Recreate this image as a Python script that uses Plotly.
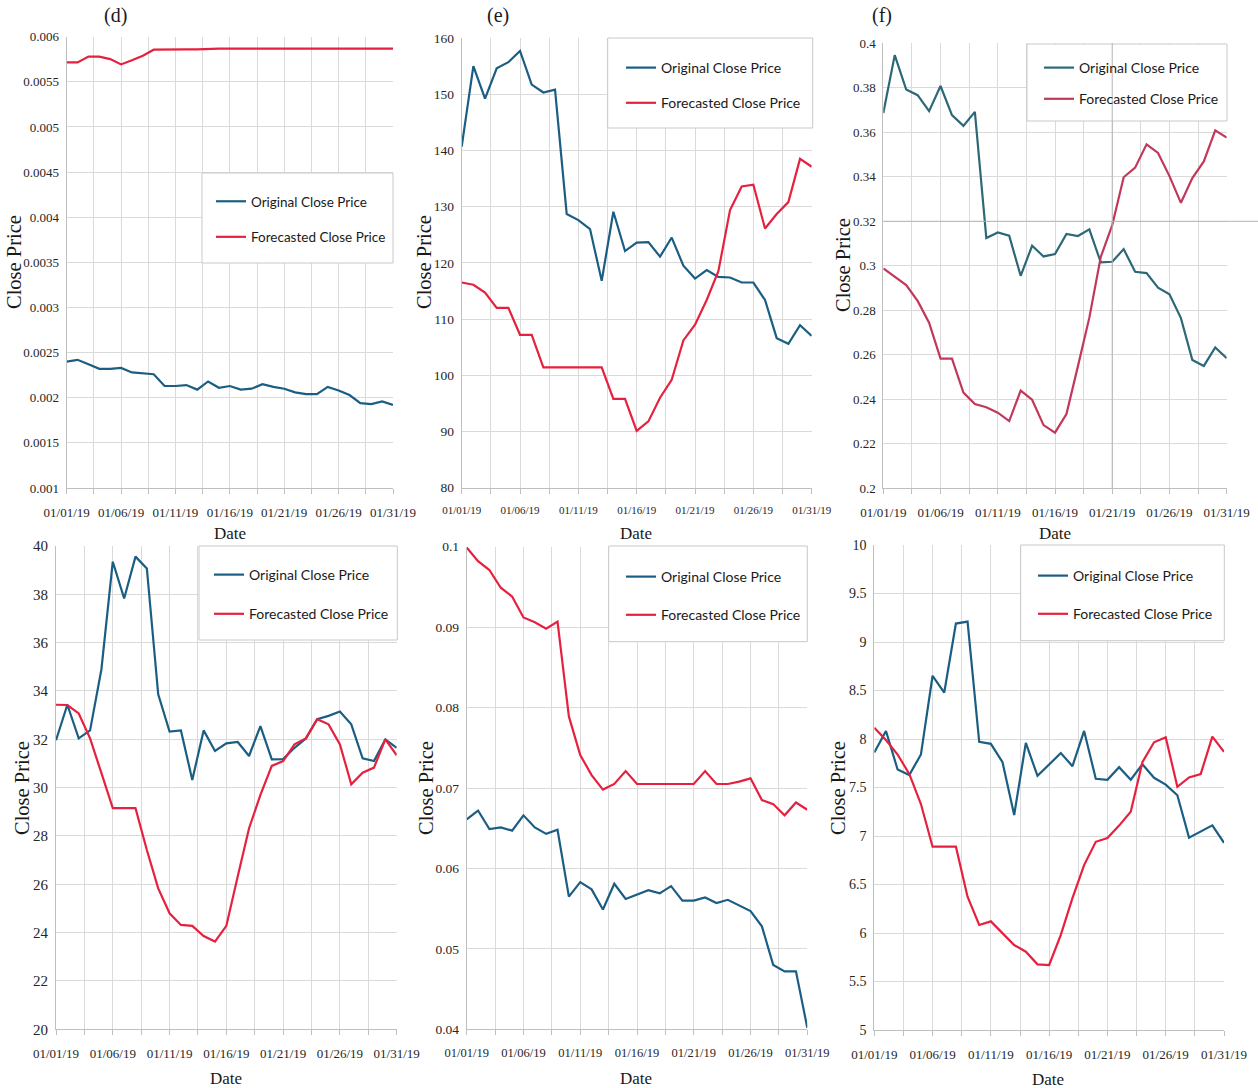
import plotly.graph_objects as go

# ---------------------------------------------------------------- data
dates = [f"2019-01-{d:02d}" for d in range(1, 32)]

d_original = [0.00240, 0.00242, 0.00237, 0.00232, 0.00232, 0.00233, 0.00228, 0.00227,
              0.00226, 0.00213, 0.00213, 0.00214, 0.00209, 0.00218, 0.00211, 0.00213,
              0.00209, 0.00210, 0.00215, 0.00212, 0.00210, 0.00206, 0.00204, 0.00204,
              0.00212, 0.00208, 0.00203, 0.00194, 0.00193, 0.00196, 0.00192]
d_forecast = [0.005715, 0.005715, 0.00578, 0.00578, 0.005752, 0.005693, 0.00574, 0.00579,
              0.005856, 0.00586, 0.00586, 0.00586, 0.00586, 0.005866, 0.005867, 0.005867,
              0.005867, 0.005867, 0.005867, 0.005867, 0.005867, 0.005867, 0.005867, 0.005867,
              0.005867, 0.005867, 0.005867, 0.005867, 0.005867, 0.005867, 0.005867]

e_original = [140.7, 155.0, 149.2, 154.6, 155.7, 157.7, 151.7, 150.3, 150.8, 128.7, 127.6,
              126.0, 116.8, 129.1, 122.1, 123.6, 123.7, 121.1, 124.5, 119.5, 117.2, 118.7,
              117.5, 117.4, 116.5, 116.5, 113.4, 106.6, 105.6, 108.9, 107.0]
e_forecast = [116.5, 116.1, 114.7, 112.0, 112.0, 107.2, 107.2, 101.4, 101.4, 101.4, 101.4,
              101.4, 101.4, 95.8, 95.8, 90.1, 91.8, 96.0, 99.2, 106.2, 109.0, 113.4,
              118.5, 129.4, 133.6, 133.9, 126.1, 128.7, 130.8, 138.5, 137.1]

f_original = [0.3687, 0.3947, 0.3792, 0.3767, 0.3695, 0.3808, 0.3677, 0.3629, 0.3692, 0.3125,
              0.3150, 0.3135, 0.2955, 0.3090, 0.3042, 0.3053, 0.3143, 0.3134, 0.3164, 0.3015,
              0.3018, 0.3075, 0.2973, 0.2967, 0.2902, 0.2872, 0.2765, 0.2577, 0.2550, 0.2633,
              0.2585]
f_forecast = [0.2988, 0.2952, 0.2913, 0.2842, 0.2744, 0.2583, 0.2583, 0.2430, 0.2379, 0.2364,
              0.2340, 0.2302, 0.2439, 0.2398, 0.2284, 0.2250, 0.2334, 0.2548, 0.2767, 0.3040,
              0.3183, 0.3398, 0.3441, 0.3546, 0.3507, 0.3403, 0.3283, 0.3394, 0.3469, 0.3609,
              0.3576]

g_original = [31.96, 33.43, 32.04, 32.37, 34.90, 39.35, 37.83, 39.56, 39.07, 33.86, 32.32,
              32.37, 30.32, 32.37, 31.52, 31.83, 31.89, 31.31, 32.55, 31.17, 31.18, 31.65,
              32.03, 32.83, 32.97, 33.15, 32.62, 31.21, 31.10, 32.00, 31.65]
g_forecast = [33.43, 33.42, 33.07, 32.04, 30.60, 29.15, 29.15, 29.15, 27.42, 25.83, 24.80,
              24.32, 24.28, 23.86, 23.63, 24.28, 26.32, 28.32, 29.70, 30.90, 31.10, 31.79,
              32.04, 32.83, 32.62, 31.79, 30.14, 30.62, 30.83, 32.00, 31.34]

h_original = [0.0661, 0.0672, 0.0649, 0.0651, 0.0647, 0.0666, 0.0651, 0.0643, 0.0648, 0.0565,
              0.0583, 0.0574, 0.0549, 0.0581, 0.0562, 0.0568, 0.0573, 0.0569, 0.0578, 0.0560,
              0.0560, 0.0564, 0.0557, 0.0561, 0.0554, 0.0547, 0.0528, 0.0480, 0.0472, 0.0472,
              0.0402]
h_forecast = [0.0999, 0.0982, 0.0971, 0.0949, 0.0938, 0.0912, 0.0906, 0.0898, 0.0907, 0.0789,
              0.0741, 0.0716, 0.0698, 0.0705, 0.0721, 0.0705, 0.0705, 0.0705, 0.0705, 0.0705,
              0.0705, 0.0721, 0.0705, 0.0705, 0.0708, 0.0712, 0.0685, 0.0680, 0.0666, 0.0682,
              0.0673]

i_original = [7.862, 8.083, 7.686, 7.628, 7.841, 8.652, 8.479, 9.190, 9.210, 7.970, 7.950,
              7.760, 7.216, 7.960, 7.620, 7.740, 7.855, 7.720, 8.083, 7.590, 7.580, 7.710,
              7.580, 7.740, 7.600, 7.530, 7.420, 6.983, 7.050, 7.110, 6.930]
i_forecast = [8.117, 7.990, 7.840, 7.640, 7.330, 6.890, 6.890, 6.890, 6.374, 6.083, 6.120,
              6.000, 5.876, 5.807, 5.677, 5.670, 5.980, 6.360, 6.700, 6.940, 6.980, 7.107,
              7.250, 7.760, 7.966, 8.017, 7.507, 7.603, 7.638, 8.024, 7.869]

series_names = ["Original Close Price", "Forecasted Close Price"]

# ---------------------------------------------------------------- styling
W, H = 1258, 1088
HALF_STEP_MS = 216000000          # grid every 2.5 days, labels every 5 days
SERIF = "Liberation Serif, Times New Roman, serif"
SANS = "Lato, Liberation Sans, sans-serif"
GRID = "#dadada"
AXIS = "#bfbfbf"
TXT = "#262626"
BLUE, RED = "#1b5e83", "#e6213f"
TEAL, ROSE = "#2c6878", "#c2385a"


def px(x):
    return x / W


def py(y):
    return 1 - y / H


# plot box (left, right, top, bottom in px), y range and step, fonts, legend placement
panels = [
    dict(orig=d_original, fc=d_forecast, box=(66.7, 393, 36.7, 488), yr=(0.001, 0.006), step=0.0005,
         xfs=13, yfs=13, colors=(BLUE, RED), tag="(d)", tagpos=(115, 15),
         ytitle=(14, 262), xtitle=(230, 533),
         lbox=(202, 393, 173, 263), ltext=251, litems=(202, 237), lfs=13.5),
    dict(orig=e_original, fc=e_forecast, box=(461.7, 811.7, 38, 487.7), yr=(80, 160), step=10,
         xfs=11, yfs=13.5, colors=(BLUE, RED), tag="(e)", tagpos=(498, 15),
         ytitle=(424, 262), xtitle=(636, 533),
         lbox=(607.7, 812.7, 38, 128), ltext=661, litems=(68, 102), lfs=14),
    dict(orig=f_original, fc=f_forecast, box=(883.3, 1226.7, 43.3, 488.3), yr=(0.2, 0.4), step=0.02,
         xfs=13, yfs=13, colors=(TEAL, ROSE), tag="(f)", tagpos=(882, 15),
         ytitle=(843, 265), xtitle=(1055, 533),
         lbox=(1027, 1227, 44, 121), ltext=1079, litems=(68, 98), lfs=14),
    dict(orig=g_original, fc=g_forecast, box=(56, 396.7, 546, 1029.3), yr=(20, 40), step=2,
         xfs=13, yfs=15, colors=(BLUE, RED), tag=None,
         ytitle=(22, 788), xtitle=(226, 1078),
         lbox=(199, 397.3, 546, 640), ltext=249, litems=(575, 613), lfs=14),
    dict(orig=h_original, fc=h_forecast, box=(466.7, 807.3, 546.7, 1029.3), yr=(0.04, 0.1), step=0.01,
         xfs=12.5, yfs=13.5, colors=(BLUE, RED), tag=None,
         ytitle=(426, 788), xtitle=(636, 1078),
         lbox=(608.7, 807.3, 546, 641.7), ltext=661, litems=(577, 614), lfs=14),
    dict(orig=i_original, fc=i_forecast, box=(874.3, 1224, 545, 1030), yr=(5, 10), step=0.5,
         xfs=13, yfs=14, colors=(BLUE, RED), tag=None,
         ytitle=(838, 788), xtitle=(1048, 1079),
         lbox=(1020.7, 1224.3, 545, 640.7), ltext=1073, litems=(576, 613), lfs=14),
]

fig = go.Figure()
layout = dict(width=W, height=H, margin=dict(l=0, r=0, t=0, b=0, autoexpand=False),
              paper_bgcolor="white", plot_bgcolor="white", showlegend=True)
annotations, shapes = [], []

for n, p in enumerate(panels, start=1):
    sfx = "" if n == 1 else str(n)
    legend_key = "legend" + sfx
    left, right, top, bottom = p["box"]

    for values, name, color in zip((p["orig"], p["fc"]), series_names, p["colors"]):
        fig.add_trace(go.Scatter(
            x=dates, y=values, mode="lines", name=name,
            line=dict(color=color, width=2.2),
            xaxis="x" + sfx, yaxis="y" + sfx,
            legend=legend_key, legendgroup=f"{name}-{n}",
        ))

    lo, hi = p["yr"]
    count = round((hi - lo) / p["step"])
    yvals = [round(lo + k * p["step"], 6) for k in range(count + 1)]

    layout["xaxis" + sfx] = dict(
        domain=[px(left), px(right)], anchor="y" + sfx, type="date",
        range=[dates[0], dates[-1]],
        tickmode="linear", tick0=dates[0], dtick=HALF_STEP_MS, ticklabelstep=2,
        tickformat="%m/%d/%y",
        showgrid=True, gridcolor=GRID, gridwidth=1,
        showline=True, linecolor=AXIS, linewidth=1,
        ticks="outside", ticklen=5, tickcolor=AXIS,
        tickfont=dict(family=SERIF, size=p["xfs"], color=TXT),
        ticklabelstandoff=7, zeroline=False, fixedrange=True, automargin=False,
    )
    layout["yaxis" + sfx] = dict(
        domain=[py(bottom), py(top)], anchor="x" + sfx, range=[lo, hi],
        tickmode="array", tickvals=yvals, ticktext=[f"{v:g}" for v in yvals],
        showgrid=True, gridcolor=GRID, gridwidth=1,
        showline=True, linecolor=AXIS, linewidth=1, ticks="",
        tickfont=dict(family=SERIF, size=p["yfs"], color=TXT),
        ticklabelstandoff=4, zeroline=False, fixedrange=True, automargin=False,
    )

    # legend frame and entries
    bx0, bx1, by0, by1 = p["lbox"]
    shapes.append(dict(type="rect", xref="paper", yref="paper",
                       x0=px(bx0), x1=px(bx1), y0=py(by1), y1=py(by0),
                       line=dict(color="#c9c9c9", width=1), fillcolor="white", layer="above"))
    first, second = p["litems"]
    layout[legend_key] = dict(
        x=px(p["ltext"] - 40), y=py(first - 16), xanchor="left", yanchor="top",
        bgcolor="rgba(0,0,0,0)", borderwidth=0, traceorder="grouped",
        tracegroupgap=max(0, (second - first) - 20), itemwidth=30,
        font=dict(family=SANS, size=p["lfs"], color="#1a1a1a"),
    )

    # titles
    annotations.append(dict(text="Close Price", textangle=-90, x=px(p["ytitle"][0]), y=py(p["ytitle"][1]),
                            xref="paper", yref="paper", showarrow=False, xanchor="center", yanchor="middle",
                            font=dict(family=SERIF, size=20.5, color="#1a1a1a")))
    annotations.append(dict(text="Date", x=px(p["xtitle"][0]), y=py(p["xtitle"][1]),
                            xref="paper", yref="paper", showarrow=False, xanchor="center", yanchor="middle",
                            font=dict(family=SERIF, size=17, color="#1a1a1a")))
    if p["tag"]:
        annotations.append(dict(text=p["tag"], x=px(p["tagpos"][0]), y=py(p["tagpos"][1]),
                                xref="paper", yref="paper", showarrow=False, xanchor="center",
                                yanchor="middle", font=dict(family=SERIF, size=20, color="#1a1a1a")))

# darker reference lines in panel (f)
shapes.append(dict(type="line", xref="x3", yref="paper", x0="2019-01-21", x1="2019-01-21",
                   y0=py(488.3), y1=py(43.3), line=dict(color="#b4b4b4", width=1), layer="above"))
shapes.append(dict(type="line", xref="paper", yref="y3", x0=px(883.3), x1=1.0, y0=0.32, y1=0.32,
                   line=dict(color="#b4b4b4", width=1), layer="above"))

layout["annotations"] = annotations
layout["shapes"] = shapes
fig.update_layout(**layout)
fig.write_html("out.html")
